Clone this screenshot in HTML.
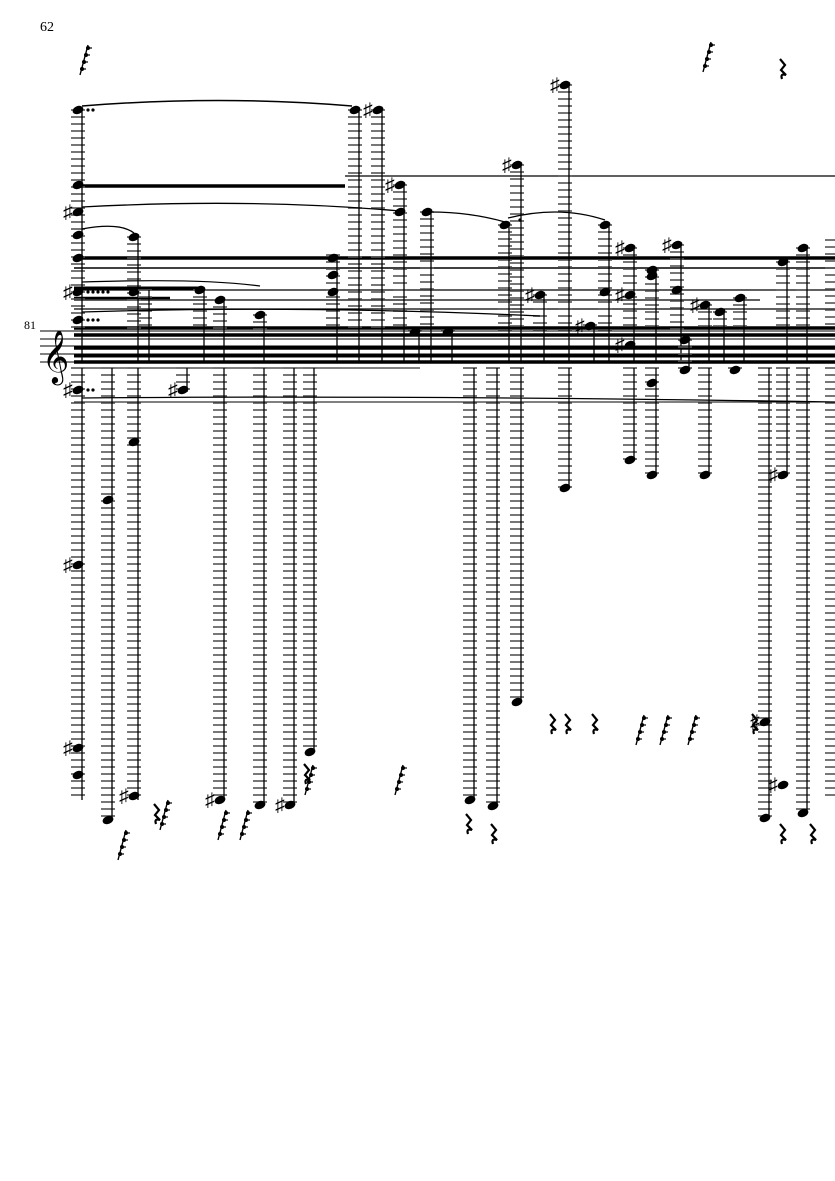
<!DOCTYPE html>
<html><head><meta charset="utf-8"><style>
html,body{margin:0;padding:0;background:#fff;}
svg{display:block;}
text{font-family:"Liberation Serif",serif;}
</style></head><body>
<svg id="s" width="835" height="1181" viewBox="0 0 835 1181" xmlns="http://www.w3.org/2000/svg">
<rect width="835" height="1181" fill="#fff"/>
<text x="40" y="31" font-size="14">62</text>
<text x="24" y="329" font-size="12">81</text>
<g id="g"></g>
<text x="42" y="372" font-size="46">𝄞</text>
</svg>
<script>
var g=document.getElementById('g');var h='';
function L(x1,y1,x2,y2,w,c){h+='<line x1="'+x1+'" y1="'+y1+'" x2="'+x2+'" y2="'+y2+'" stroke="'+(c||'#000')+'" stroke-width="'+w+'"/>';}
function N(x,y){h+='<ellipse cx="'+x+'" cy="'+y+'" rx="5.6" ry="3.9" transform="rotate(-22 '+x+' '+y+')" fill="#000"/>';}
function S(x,y){h+='<text x="'+(x-15)+'" y="'+(y+6)+'" font-size="19" font-family="DejaVu Sans">♯</text>';}
[331,339,346,354,362].forEach(function(y){L(40,y,835,y,1);});
[[186,3.5,74,345],[176,1.2,345,835],[258,3.5,74,835],[268,1.5,74,835],[290,1.2,74,835],[300,1.2,74,760],[309,1.2,74,835],[328,3.5,74,835],[335,3.5,74,835],[348,3.5,74,835],[356,3,74,835],[362,3.5,74,835],[288,3,74,200],[298,2.5,74,170],[402,1,74,835],[368,1,74,420]].forEach(function(b){L(b[2],b[0],b[3],b[0],b[1]);});
var cols=[
[78,110,330,[110,185,212,235,258,292,320]],[78,368,800,[390,565,748,775]],
[108,368,820,[500,820]],[134,237,330,[237,292]],[134,368,800,[442,796]],
[145,290,330,[]],[183,368,392,[390]],[200,290,330,[290]],[220,300,330,[300]],[220,368,800,[800]],
[260,315,330,[315]],[260,368,805,[805]],[290,368,805,[805]],[310,368,752,[752]],
[333,255,330,[258,275,292]],[355,110,330,[110]],[378,110,330,[110]],[400,185,330,[185,212]],[415,330,330,[332]],
[427,212,330,[212]],[448,330,330,[332]],[470,368,800,[800]],[493,368,806,[806]],
[505,225,330,[225]],[517,165,330,[165]],[517,368,702,[702]],[540,295,330,[295]],
[565,85,330,[85]],[565,368,488,[488]],[590,325,330,[326]],[605,225,330,[225,292]],
[630,248,330,[248,295,345]],[630,368,460,[460]],[652,270,330,[270,276]],[652,368,475,[475,383]],
[677,245,330,[245,290]],[685,340,370,[340,370]],[705,305,330,[305]],[705,368,475,[475]],
[720,312,330,[312]],[740,298,330,[298]],[735,368,370,[370]],[765,368,818,[818,722]],[783,262,330,[262]],[783,368,475,[475,785]],
[803,248,330,[248]],[803,368,813,[813]],[832,240,330,[]],[832,368,800,[]]
];
cols.forEach(function(c){var x=c[0];
 for(var y=c[1];y<=c[2];y+=7){L(x-7,y,x+7,y,1.6,'#555');}
 L(x+4,c[1],x+4,c[2]==330?362:c[2],1.3);
 c[3].forEach(function(n){N(x,n);});
});
[[78,212],[78,292],[78,390],[78,565],[78,748],[134,796],[183,390],[220,800],[290,805],[378,110],[400,185],[517,165],[565,85],[540,295],[590,326],[630,248],[630,295],[630,345],[677,245],[705,305],[783,475],[783,785],[765,722]].forEach(function(a){S(a[0],a[1]);});
h+='<path d="M82 106 Q220 95 352 106" fill="none" stroke="#000" stroke-width="1.5"/>';
h+='<path d="M82 229 Q120 222 134 233" fill="none" stroke="#000" stroke-width="1.3"/>';
h+='<path d="M82 207 Q250 198 400 211" fill="none" stroke="#000" stroke-width="1.3"/>';
h+='<path d="M430 212 Q470 212 505 222" fill="none" stroke="#000" stroke-width="1.2"/>';
h+='<path d="M508 218 Q560 205 605 220" fill="none" stroke="#000" stroke-width="1.3"/>';
h+='<path d="M82 312 Q300 305 540 316" fill="none" stroke="#000" stroke-width="1.2"/>';
h+='<path d="M82 398 Q400 395 835 402" fill="none" stroke="#000" stroke-width="1.2"/>';
h+='<path d="M82 282 Q200 278 260 286" fill="none" stroke="#000" stroke-width="1.2"/>';
[[88,110],[93,110],[88,292],[93,292],[98,292],[103,292],[108,292],[88,320],[93,320],[98,320],[88,390],[93,390],[520,220]].forEach(function(d){h+='<circle cx="'+d[0]+'" cy="'+d[1]+'" r="1.6"/>';});
function F(x,y){L(x,y+30,x+8,y,1.4);for(var i=0;i<4;i++){h+='<circle cx="'+(x+2+i*2)+'" cy="'+(y+24-i*7)+'" r="2"/>';L(x+2+i*2,y+24-i*7,x+6+i*2,y+24-i*7,1.2);}}
[[80,45],[703,42],[118,830],[160,800],[218,810],[240,810],[305,765],[395,765],[636,715],[660,715],[688,715]].forEach(function(f){F(f[0],f[1]);});
function R(x,y){h+='<path d="M'+(x+2)+' '+(y-16)+' l5 6 l-4 5 l5 5 q-6 -2 -4 4" fill="none" stroke="#000" stroke-width="2.2"/>';}
[[778,75],[548,730],[563,730],[590,730],[464,830],[489,840],[778,840],[808,840],[152,820],[302,780],[750,730]].forEach(function(r){R(r[0],r[1]);});
g.innerHTML=h;
</script>
</body></html>
